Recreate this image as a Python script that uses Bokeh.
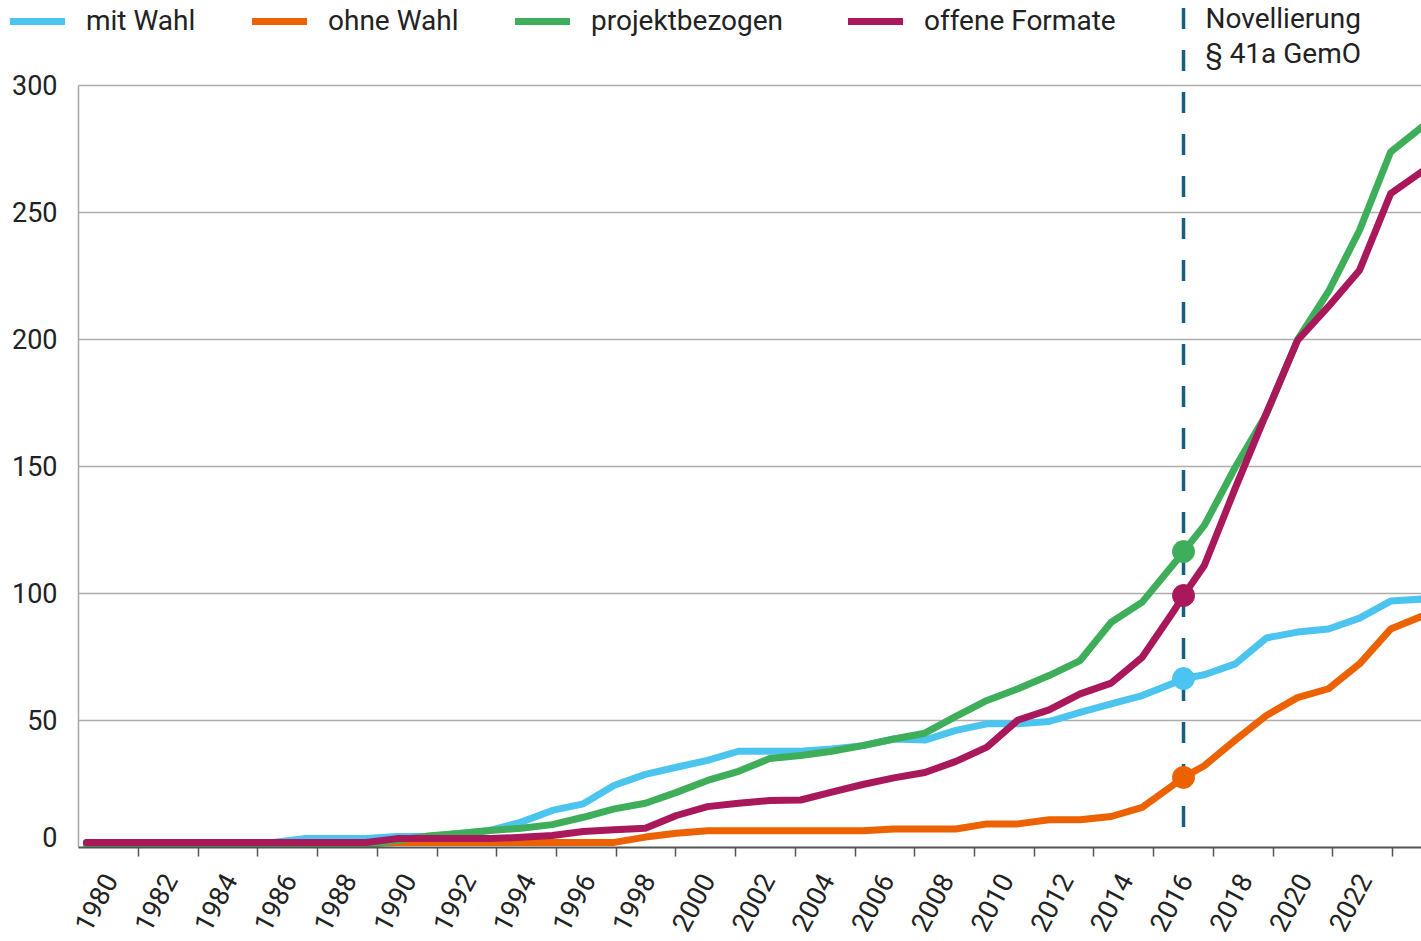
import math
from bokeh.plotting import figure
from bokeh.models import (Range1d, LinearAxis, FixedTicker, Legend, LegendItem, Label,
                          CustomJSTickFormatter)
from bokeh.core.properties import value
from bokeh.embed import file_html
from bokeh.resources import INLINE

# ---------------- data ----------------
years = list(range(1980, 2024))
series_names = ["mit Wahl", "ohne Wahl", "projektbezogen", "offene Formate"]

mit_wahl = [2, 2, 2, 2, 2, 2, 2, 3.5, 3.5, 3.5,
            4.3, 4.3, 5.5, 6.7, 10, 14.6, 17.2, 24.5, 28.8, 31.6,
            34.3, 37.9, 37.9, 37.9, 38.8, 40.1, 42.7, 42.3, 46.1, 48.7,
            48.7, 49.6, 53.2, 56.5, 59.8, 64.7, 68, 72.3, 82.5, 84.8,
            86, 90.3, 97, 97.8]
ohne_wahl = [1.5, 1.5, 1.5, 1.5, 1.5, 1.5, 1.5, 1.5, 1.5, 1.5,
             2, 2, 2, 2, 2, 2, 2, 2, 4.1, 5.6,
             6.6, 6.6, 6.6, 6.6, 6.6, 6.6, 7.3, 7.3, 7.3, 9.3,
             9.3, 10.9, 10.9, 12.2, 15.8, 24.6, 32.2, 42.3, 52, 59,
             62.5, 72.3, 86, 91]
projektbezogen = [1, 1, 1, 1, 1, 1, 1, 1, 1, 1,
                  2.8, 4.5, 5.5, 6.7, 7.6, 9, 11.9, 15.2, 17.4, 21.7,
                  26.4, 30, 35, 36.2, 37.9, 40.1, 42.7, 45, 51.6, 57.9,
                  62.5, 67.7, 73.6, 88.7, 96.6, 111.4, 126.8, 149.8, 170.6, 199.8,
                  218.9, 243, 273.8, 283.6]
offene_formate = [2, 2, 2, 2, 2, 2, 2, 2, 2, 2,
                  3.5, 3.5, 3.5, 3.5, 4, 4.7, 6.3, 7, 7.6, 12.6,
                  16.1, 17.4, 18.5, 18.7, 21.8, 24.8, 27.4, 29.5, 33.9, 39.5,
                  50.2, 54.2, 60.5, 64.7, 74.9, 92.8, 111, 141.6, 171, 199.6,
                  213, 227.3, 257.4, 266]

novellierung_year = 2016
novellierung_values = [66.5, 27.6, 116.5, 99.2]
novellierung_text = ["Novellierung", "§ 41a GemO"]

y_ticks = [0, 50, 100, 150, 200, 250, 300]
x_label_years = list(range(1980, 2023, 2))
x_tick_years = list(range(1981, 2024, 2))

# ---------------- style / layout ----------------
colors = ["#4cc4f0", "#ec6200", "#3fae5a", "#a8185a"]
dash_color = "#156082"
text_color = "#222222"
grid_color = "#adadad"
FONT = "Roboto"

DATA_RANGE = (1977.230, 2022.995)   # range used for the series (frame = whole width)
AXIS_RANGE = (1976.382, 2023.97)    # range used for the year axis
AXIS_LEFT = 1978.994                # where the value axis sits (on AXIS_RANGE)
Y_TOP = 333.46
LABEL_SHIFT = 0.05                  # small horizontal nudge of the rotated year labels
# vertical nudges of the value labels (the lowest one must stay inside the plot area)
y_label_offsets = [-11, 0, 0, 0, 0, 0, 0]

p = figure(width=1421, height=941,
           x_range=Range1d(*DATA_RANGE), y_range=Range1d(0, Y_TOP),
           x_axis_location=None, y_axis_location=None,
           toolbar_location=None, output_backend="svg",
           min_border_left=0, min_border_right=0,
           min_border_top=0, min_border_bottom=94)
p.extra_x_ranges = {"axis": Range1d(*AXIS_RANGE)}
p.outline_line_color = None
p.background_fill_color = "white"
p.border_fill_color = "white"
p.grid.visible = False

# horizontal grid lines and value axis (drawn with the plot's own scales)
p.segment(x0=[AXIS_LEFT] * (len(y_ticks) - 1), x1=[AXIS_RANGE[1]] * (len(y_ticks) - 1),
          y0=y_ticks[1:], y1=y_ticks[1:], x_range_name="axis",
          line_color=grid_color, line_width=1.5)
p.segment(x0=[AXIS_LEFT], x1=[AXIS_LEFT], y0=[y_ticks[0]], y1=[y_ticks[-1]],
          x_range_name="axis", line_color="#a6a6a6", line_width=1.5)
p.text(x=[AXIS_LEFT] * len(y_ticks), y=y_ticks, text=[str(v) for v in y_ticks],
       x_range_name="axis", x_offset=-21, y_offset=y_label_offsets,
       text_align="right", text_baseline="middle",
       text_font=value(FONT), text_font_size="27px", text_color=text_color)

# x axis on the label range
xaxis = LinearAxis(x_range_name="axis",
                   ticker=FixedTicker(ticks=[y + LABEL_SHIFT for y in x_label_years],
                                      minor_ticks=x_tick_years),
                   formatter=CustomJSTickFormatter(code="return String(Math.round(tick));"),
                   major_label_orientation=math.radians(62),
                   bounds=(AXIS_LEFT, AXIS_RANGE[1]))
xaxis.major_tick_out = 0
xaxis.major_tick_in = 0
xaxis.minor_tick_out = 9
xaxis.minor_tick_in = 0
xaxis.minor_tick_line_color = "#555555"
xaxis.minor_tick_line_width = 1.5
xaxis.axis_line_color = "#555555"
xaxis.axis_line_width = 2
xaxis.major_label_standoff = 19
xaxis.major_label_text_font = FONT
xaxis.major_label_text_font_size = "27px"
xaxis.major_label_text_color = text_color
p.add_layout(xaxis, "below")

# dashed Novellierung line
p.line(x=[novellierung_year, novellierung_year], y=[330.55, 5.5], x_range_name="axis",
       line_color=dash_color, line_width=3.5, line_dash="21 21")

# position of the Novellierung on the series range
nov_data_x = DATA_RANGE[0] + (novellierung_year - AXIS_RANGE[0]) * \
    (DATA_RANGE[1] - DATA_RANGE[0]) / (AXIS_RANGE[1] - AXIS_RANGE[0])

renderers = []
for vals, nv, col in zip([mit_wahl, ohne_wahl, projektbezogen, offene_formate],
                         novellierung_values, colors):
    pts = sorted(list(zip(years, vals)) + [(nov_data_x, nv)])
    r = p.line(x=[a for a, b in pts], y=[b for a, b in pts], line_color=col,
               line_width=7, line_cap="round", line_join="round")
    renderers.append(r)

p.scatter(x=[novellierung_year] * 4, y=novellierung_values, x_range_name="axis",
          size=22, fill_color=colors, line_color=colors)

# legends (one per entry, placed like the reference)
legend_x = [10, 252, 515, 848]
legend_y = 810
for name, r, lx in zip(series_names, renderers, legend_x):
    lg = Legend(items=[LegendItem(label=name, renderers=[r])], location=(lx, legend_y),
                orientation="horizontal", padding=0, margin=0, spacing=0,
                glyph_width=55, glyph_height=30, label_height=30, label_standoff=21,
                label_text_font=FONT, label_text_font_size="28px",
                label_text_color=text_color, border_line_alpha=0,
                background_fill_alpha=0)
    p.add_layout(lg)

for txt, ty in zip(novellierung_text, [326.4, 312.6]):
    p.add_layout(Label(x=novellierung_year, y=ty, x_range_name="axis", x_offset=22,
                       text=txt, text_font=FONT, text_font_size="28px",
                       text_baseline="middle", text_color=text_color))

open("out.html", "w").write(file_html(p, INLINE))
